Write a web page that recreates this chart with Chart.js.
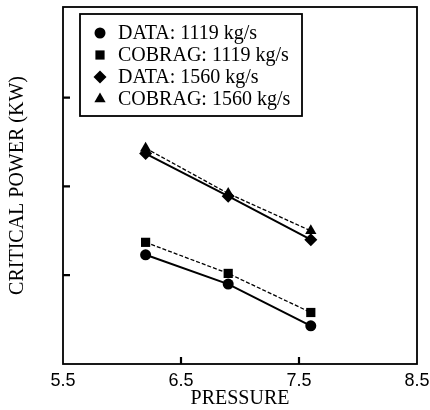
<!DOCTYPE html>
<html>
<head>
<meta charset="utf-8">
<script src="https://cdn.jsdelivr.net/npm/chart.js@4.4.1/dist/chart.umd.min.js"></script>
<style>
  html, body { margin: 0; padding: 0; background: #fff; }
  canvas { display: block; }
</style>
</head>
<body>
<canvas id="cpChart" width="430" height="410"></canvas>
<script>
// pressure points and critical power for both mass flow rates
const pressure = [6.2, 6.9, 7.6];
const data1119 = [1.23, 0.90, 0.43];
const cobrag1119 = [1.37, 1.02, 0.58];
const data1560 = [2.37, 1.89, 1.40];
const cobrag1560 = [2.43, 1.92, 1.50];
const xTicks = [5.5, 6.5, 7.5, 8.5];
const yTicks = [1, 2, 3];

const serif = "'Liberation Serif', 'Times New Roman', serif";
const sans = "'Liberation Sans', Arial, sans-serif";

function pts(ys) {
  return pressure.map((x, i) => ({ x: x, y: ys[i] }));
}

function series(label, ys, style, radius, dashed) {
  return {
    label: label,
    data: pts(ys),
    borderColor: '#000',
    backgroundColor: '#000',
    borderWidth: dashed ? 1.3 : 2,
    borderDash: dashed ? [4, 2] : [],
    pointStyle: style,
    pointRadius: radius,
    pointBorderWidth: 0,
    pointBackgroundColor: '#000',
    tension: 0,
  };
}

// frame around the plot plus short inward tick marks
const frameTicks = {
  id: 'frameTicks',
  beforeDatasetsDraw(chart) {
    const { ctx, chartArea: a, scales } = chart;
    ctx.save();
    ctx.strokeStyle = '#000';
    ctx.lineWidth = 1.8;
    ctx.strokeRect(a.left, a.top, a.right - a.left, a.bottom - a.top);
    ctx.lineWidth = 2.2;
    ctx.beginPath();
    scales.x.ticks.forEach(t => {
      if (t.value <= scales.x.min || t.value >= scales.x.max) return;
      const px = scales.x.getPixelForValue(t.value);
      ctx.moveTo(px, a.bottom);
      ctx.lineTo(px, a.bottom - 7);
    });
    scales.y.ticks.forEach(t => {
      const py = scales.y.getPixelForValue(t.value);
      ctx.moveTo(a.left, py);
      ctx.lineTo(a.left + 7, py);
    });
    ctx.stroke();
    ctx.restore();
  }
};

// boxed legend in the upper left of the plot
const boxLegend = {
  id: 'boxLegend',
  afterDraw(chart) {
    const ctx = chart.ctx;
    const bx = 80, by = 14, bw = 222, bh = 102;
    ctx.save();
    ctx.fillStyle = '#fff';
    ctx.fillRect(bx, by, bw, bh);
    ctx.strokeStyle = '#000';
    ctx.lineWidth = 1.8;
    ctx.strokeRect(bx, by, bw, bh);
    ctx.font = '20px ' + serif;
    ctx.textBaseline = 'middle';
    chart.data.datasets.forEach((ds, i) => {
      const y = by + 19 + i * 22;
      ctx.fillStyle = '#000';
      Chart.helpers.drawPoint(ctx, {
        pointStyle: ds.pointStyle,
        radius: ds.pointRadius,
        rotation: 0,
        borderWidth: 0
      }, bx + 20, y);
      ctx.fillStyle = '#000';
      ctx.fillText(ds.label, bx + 38, y + 1);
    });
    ctx.restore();
  }
};

new Chart(document.getElementById('cpChart'), {
  type: 'line',
  data: {
    datasets: [
      series('DATA: 1119 kg/s', data1119, 'circle', 5.5, false),
      series('COBRAG: 1119 kg/s', cobrag1119, 'rect', 6.5, true),
      series('DATA: 1560 kg/s', data1560, 'rectRot', 6.5, false),
      series('COBRAG: 1560 kg/s', cobrag1560, 'triangle', 6.5, true),
    ]
  },
  options: {
    responsive: false,
    animation: false,
    layout: { padding: { left: 6, right: 13, top: 7, bottom: 1 } },
    plugins: {
      legend: { display: false },
      tooltip: { enabled: false }
    },
    scales: {
      x: {
        type: 'linear',
        min: 5.5,
        max: 8.5,
        afterBuildTicks(scale) { scale.ticks = xTicks.map(v => ({ value: v })); },
        afterFit(scale) { scale.paddingLeft = 0; scale.paddingRight = 0; },
        grid: { display: false, drawTicks: false },
        border: { display: false },
        ticks: {
          color: '#000',
          padding: 8,
          font: { family: sans, size: 18, lineHeight: 1 },
          callback: v => v.toFixed(1)
        },
        title: {
          display: true,
          text: 'PRESSURE',
          color: '#000',
          font: { family: serif, size: 20, lineHeight: 1 },
          padding: { top: -9, bottom: 0 }
        }
      },
      y: {
        type: 'linear',
        min: 0,
        max: 4.02,
        afterBuildTicks(scale) { scale.ticks = yTicks.map(v => ({ value: v })); },
        grid: { display: false, drawTicks: false },
        border: { display: false },
        ticks: { display: false },
        title: {
          display: true,
          text: 'CRITICAL POWER (KW)',
          color: '#000',
          font: { family: serif, size: 20, lineHeight: 1.2 },
          padding: { top: 0, bottom: 33 }
        }
      }
    }
  },
  plugins: [frameTicks, boxLegend]
});
</script>
</body>
</html>
